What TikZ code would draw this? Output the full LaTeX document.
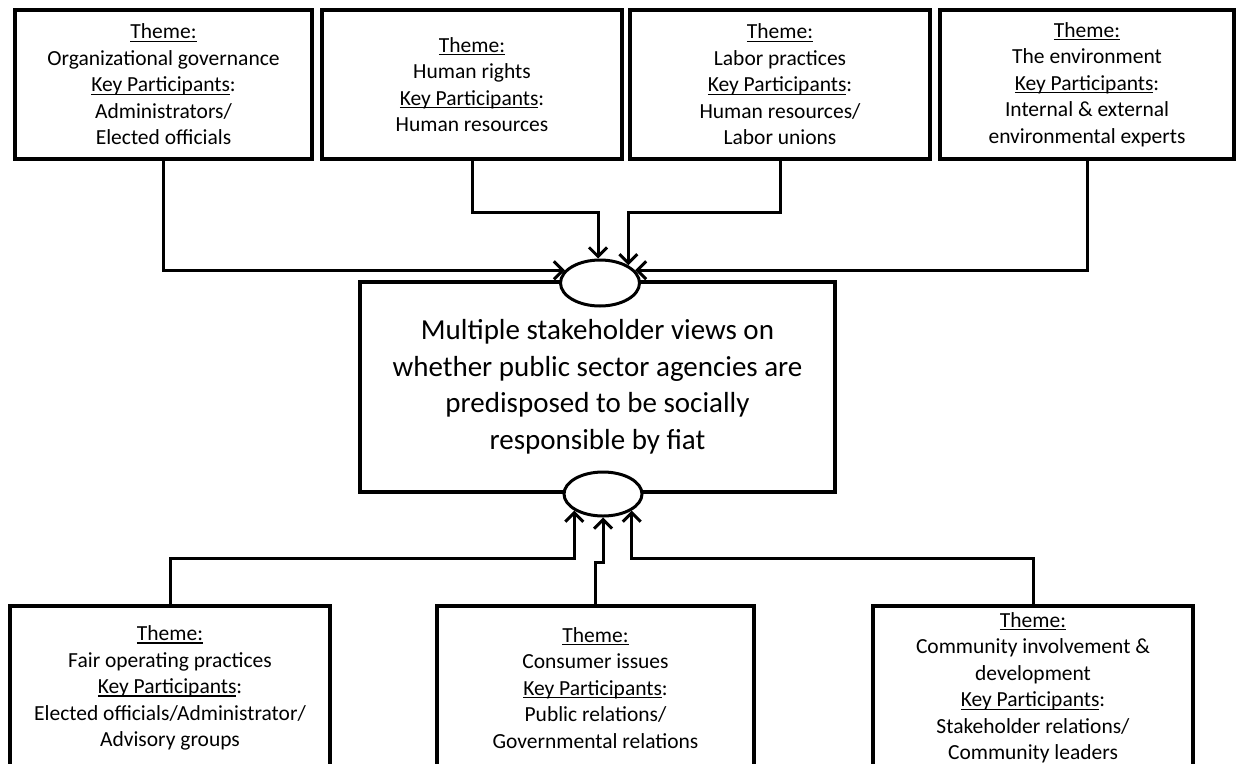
\documentclass[tikz,border=0pt]{standalone}
\usepackage{fontspec}
\setmainfont{Carlito}
\usetikzlibrary{arrows.meta,shapes.geometric}
% underline at a fixed depth below the baseline
\newcommand\ulx[1]{\setbox0\hbox{#1}\rlap{\rule[-3pt]{\wd0}{1.3pt}}\box0}
\begin{document}
\begin{tikzpicture}[x=1pt,y=-1pt,
  box/.style={draw, rectangle, line width=4pt, align=center, inner sep=0pt,
    font=\fontsize{21.5}{26.5}\selectfont},
  topbox/.style={box, minimum height=149pt},
  lowbox/.style={box, minimum height=164pt},
  core/.style={draw, rectangle, line width=4pt, align=center, inner sep=0pt,
    minimum width=475pt, minimum height=210pt,
    font=\fontsize{29}{36.5}\selectfont},
  hub/.style={draw, ellipse, fill=white, line width=3pt, inner sep=0pt},
  link/.style={line width=3pt, -{Straight Barb[length=9pt,width=18pt]}}]

\fill[white] (0,0) rectangle (1238,763);
\useasboundingbox (0,0) rectangle (1238,763);
\clip (0,0) rectangle (1238,763);

% upper row of themes
\node[topbox, minimum width=297pt] (t1) at (163.5,84.5)
  {\ulx{Theme:}\\Organizational governance\\\ulx{Key Participants}:\\Administrators/\\Elected officials};
\node[topbox, minimum width=300pt] (t2) at (472,84.5)
  {\ulx{Theme:}\\Human rights\\\ulx{Key Participants}:\\Human resources};
\node[topbox, minimum width=300pt] (t3) at (780,84.5)
  {\ulx{Theme:}\\Labor practices\\\ulx{Key Participants}:\\Human resources/\\Labor unions};
\node[topbox, minimum width=294pt] (t4) at (1087,84.5)
  {\ulx{Theme:}\\The environment\\\ulx{Key Participants}:\\Internal \& external\\environmental experts};

% central statement
\node[core] (c) at (597.5,387)
  {Multiple stakeholder views on\\whether public sector agencies are\\predisposed to be socially\\responsible by fiat};

% lower row of themes
\node[lowbox, minimum width=320pt] (b1) at (170,688)
  {\ulx{Theme:}\\Fair operating practices\\\ulx{Key Participants}:\\Elected officials/Administrator/\\Advisory groups};
\node[lowbox, minimum width=317pt] (b2) at (595.5,688)
  {\ulx{Theme:}\\Consumer issues\\\ulx{Key Participants}:\\Public relations/\\Governmental relations};
\node[lowbox, minimum width=320pt] (b3) at (1033,688)
  {\ulx{Theme:}\\Community involvement \&\\development\\\ulx{Key Participants}:\\Stakeholder relations/\\Community leaders};

% junction ellipses on the central box
\node[hub, minimum width=79pt, minimum height=46pt] (e1) at (600,283) {};
\node[hub, minimum width=78pt, minimum height=44pt] (e2) at (603,494) {};

% levels of the horizontal runs
\coordinate (jt) at (0,212);
\coordinate (jb) at (0,558);
\coordinate (jm) at (0,562);

% connectors from the upper row
\draw[link] (t1.south) |- (e1.160);
\draw[link] (t4.south) |- (e1.20);
\draw[link] (t2.south) |- ([xshift=-2pt]e1.north |- jt) -- ([xshift=-2pt]e1.north);
\draw[link] (t3.south) |- (e1.32 |- jt) -- (e1.32);

% connectors from the lower row
\draw[link] (b1.north) |- (e2.210 |- jb) -- (e2.210);
\draw[link] (b3.north) |- (e2.330 |- jb) -- (e2.330);
\draw[link] (b2.north) |- (e2.south |- jm) -- (e2.south);
\end{tikzpicture}
\end{document}
